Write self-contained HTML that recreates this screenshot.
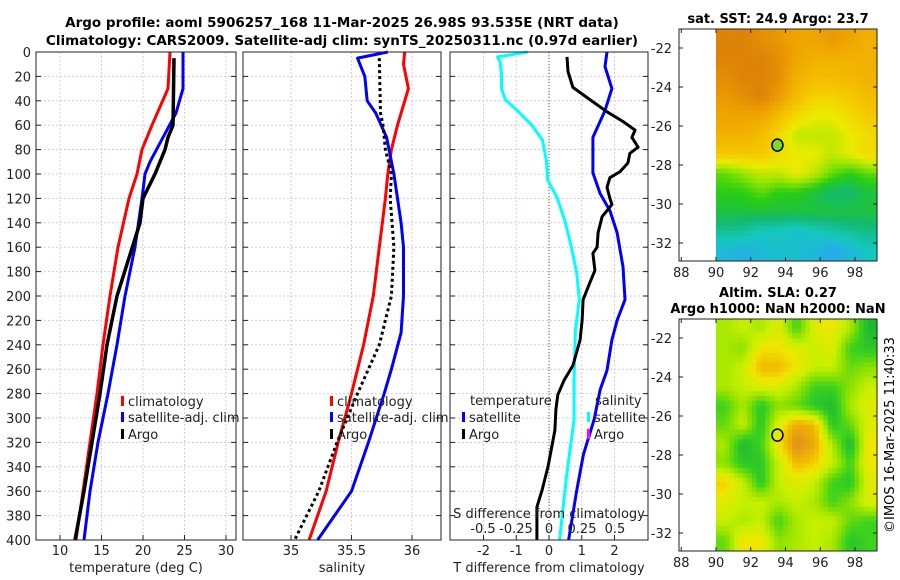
<!DOCTYPE html>
<html><head><meta charset="utf-8"><style>
body{margin:0;background:#fff;}
svg{display:block;font-family:"DejaVu Sans","Liberation Sans",sans-serif;}
</style></head><body>
<svg id="c" width="900" height="580" viewBox="0 0 900 580">
<g id="g"></g>
<text x="342" y="27" font-size="13.5" font-weight="bold" text-anchor="middle">Argo profile: aoml 5906257_168 11-Mar-2025 26.98S 93.535E (NRT data)</text>
<text x="342" y="45" font-size="13.5" font-weight="bold" text-anchor="middle">Climatology: CARS2009. Satellite-adj clim: synTS_20250311.nc (0.97d earlier)</text>
<text x="778" y="23" font-size="13" font-weight="bold" text-anchor="middle">sat. SST: 24.9 Argo: 23.7</text>
<text x="778" y="297" font-size="13" font-weight="bold" text-anchor="middle">Altim. SLA: 0.27</text>
<text x="778" y="313" font-size="13" font-weight="bold" text-anchor="middle">Argo h1000: NaN h2000: NaN</text>
<text transform="translate(894,435) rotate(-90)" font-size="13" text-anchor="middle">©IMOS 16-Mar-2025 11:40:33</text>
</svg>
<script>
// ---- data ----
const depthTicks=[0,20,40,60,80,100,120,140,160,180,200,220,240,260,280,300,320,340,360,380,400];
const tTicks=[10,15,20,25,30];
const sTicks=[35,35.5,36];
const dTTicks=[-2,-1,0,1,2];
const dSTicks=[-0.5,-0.25,0,0.25,0.5];
const dSTickLabels=["-0.5","-0.25","0","0.25","0.5"];
const tempClimDepth=[0,30,60,80,100,120,160,200,240,280,320,360,400];
const tempClim=[23.25,23.01,21.08,19.88,19.28,18.31,16.99,16.02,15.18,14.46,13.61,12.77,11.93];
const tempSatDepth=[0,30,50,70,90,100,120,160,200,240,280,320,360,400];
const tempSat=[24.82,24.82,23.98,22.41,20.84,20.24,19.88,19.04,17.83,16.87,15.78,14.58,13.61,12.89];
const tempArgoDepth=[5,60,70,80,100,120,140,200,240,280,320,360,400];
const tempArgo=[23.73,23.61,23.01,22.65,21.45,20.0,19.64,16.87,15.66,14.82,13.86,12.89,11.81];
const salClimDepth=[0,10,30,60,80,100,120,160,200,240,280,320,360,400];
const salClim=[35.94,35.93,35.97,35.88,35.83,35.80,35.78,35.73,35.68,35.60,35.50,35.39,35.29,35.15];
const salSatDepth=[0,5,20,40,50,70,100,120,140,160,200,230,260,280,320,360,400];
const salSat=[35.80,35.55,35.61,35.63,35.70,35.79,35.85,35.88,35.91,35.93,35.93,35.91,35.83,35.77,35.64,35.50,35.22];
const salArgoDepth=[5,50,60,80,100,120,160,200,240,280,320,360,400];
const salArgo=[35.73,35.74,35.76,35.78,35.83,35.82,35.85,35.83,35.73,35.55,35.38,35.23,35.03];
const dSsatDepth=[0,4,8,19,30,39,48,60,72,89,105,119,138,160,181,203,228,269,301,350,400];
const dSsat=[-0.16,-0.39,-0.37,-0.36,-0.36,-0.33,-0.24,-0.13,-0.05,-0.02,-0.01,0.06,0.12,0.17,0.21,0.23,0.20,0.19,0.19,0.13,0.08];
const dTsatDepth=[0,12,30,48,70,99,116,130,148,176,203,220,236,261,277,301,330,359,400];
const dTsat=[1.77,1.71,1.92,1.71,1.34,1.34,1.56,1.86,2.08,2.26,2.32,2.08,1.92,1.77,1.56,1.38,1.05,0.85,0.6];
const dTargoDepth=[4,16,29,39,49,57,64,70,78,83,91,98,103,111,120,125,135,148,160,165,179,189,203,220,236,257,269,281,293,310,340,359,373,400];
const dTargo=[0.55,0.58,0.73,1.25,1.77,2.26,2.63,2.53,2.72,2.47,2.41,2.17,1.86,1.77,1.86,1.92,1.62,1.50,1.47,1.34,1.40,1.25,1.04,1.01,0.95,0.73,0.46,0.27,0.21,0.18,-0.03,-0.21,-0.37,-0.37];
const mapLonTicks=[88,90,92,94,96,98];
const mapLatTicks=[-22,-24,-26,-28,-30,-32];
const sstGrid=[
[0.95,0.95,0.9,0.85,0.8,0.8,0.85,0.8,0.75],
[0.95,0.95,0.95,0.9,0.8,0.75,0.75,0.75,0.75],
[0.9,0.95,0.95,0.9,0.75,0.7,0.7,0.72,0.75],
[0.85,0.9,0.95,0.85,0.7,0.62,0.62,0.65,0.7],
[0.8,0.8,0.8,0.7,0.6,0.55,0.55,0.6,0.65],
[0.75,0.75,0.7,0.6,0.5,0.5,0.5,0.55,0.6],
[0.65,0.65,0.65,0.6,0.55,0.55,0.5,0.55,0.6],
[0.4,0.45,0.5,0.5,0.55,0.5,0.4,0.35,0.4],
[0.35,0.35,0.4,0.35,0.35,0.3,0.25,0.25,0.3],
[0.3,0.3,0.3,0.3,0.3,0.3,0.3,0.3,0.3],
[0.2,0.2,0.15,0.15,0.12,0.15,0.18,0.2,0.22],
[0.1,0.08,0.1,0.12,0.12,0.1,0.05,0.1,0.15]];
const slaGrid=[
[0.45,0.5,0.45,0.55,0.3,0.55,0.6,0.45,0.2],
[0.45,0.4,0.6,0.6,0.55,0.5,0.55,0.3,0.25],
[0.45,0.5,0.7,0.7,0.6,0.5,0.5,0.35,0.4],
[0.45,0.5,0.55,0.55,0.45,0.3,0.3,0.4,0.5],
[0.3,0.45,0.25,0.4,0.35,0.25,0.2,0.45,0.55],
[0.35,0.5,0.25,0.55,0.75,0.7,0.25,0.35,0.55],
[0.45,0.2,0.3,0.6,0.85,0.75,0.45,0.2,0.6],
[0.4,0.25,0.25,0.5,0.7,0.65,0.5,0.3,0.6],
[0.65,0.5,0.25,0.5,0.55,0.5,0.3,0.25,0.55],
[0.55,0.5,0.5,0.45,0.5,0.45,0.3,0.4,0.55],
[0.5,0.45,0.5,0.3,0.45,0.5,0.5,0.35,0.3],
[0.35,0.6,0.6,0.4,0.45,0.5,0.45,0.25,0.3]];
const argoLon=[93.535];
const argoLat=[-26.98];

// ---- helpers ----
const NS='http://www.w3.org/2000/svg';
const G=document.getElementById('g');
function mk(tag,attrs,parent){const e=document.createElementNS(NS,tag);for(const k in attrs)e.setAttribute(k,attrs[k]);(parent||G).appendChild(e);return e;}
const Y0=52,Y1=540;
const yD=d=>Y0+(d/400)*(Y1-Y0);
function lin(d0,d1,r0,r1){return v=>r0+(v-d0)/(d1-d0)*(r1-r0);}
const xT=lin(10,30,60,226);
const xS=lin(35,36,291,412);
const xDT=lin(0,1,549,581.75);
const xDS=lin(0,0.5,549,615);
const panels=[{x0:36,x1:236,name:'temperature-panel'},{x0:243,x1:441,name:'salinity-panel'},{x0:450,x1:648,name:'difference-panel'}];

function grid(p,xs){
  for(const d of depthTicks){const l=mk('line',{x1:p.x0,x2:p.x1,y1:yD(d),y2:yD(d),stroke:'#c8cdf0','stroke-width':1,'stroke-dasharray':'2,2'});
    }
  for(const x of xs){const l=mk('line',{x1:x,x2:x,y1:Y0,y2:Y1,stroke:'#e8c8c0','stroke-width':1,'stroke-dasharray':'2,2'});
    }
}
function frame(p){
  const r=mk('rect',{x:p.x0,y:Y0,width:p.x1-p.x0,height:Y1-Y0,fill:'none',stroke:'#222','stroke-width':1});
  
  for(const d of depthTicks){mk('line',{x1:p.x0,x2:p.x0+5,y1:yD(d),y2:yD(d),stroke:'#222'});mk('line',{x1:p.x1,x2:p.x1-5,y1:yD(d),y2:yD(d),stroke:'#222'});}
}
function line(depths,vals,xf,color,w,dash,name){
  const pts=depths.map((d,i)=>xf(vals[i]).toFixed(1)+','+yD(d).toFixed(1)).join(' ');
  const a={points:pts,fill:'none',stroke:color,'stroke-width':w,'stroke-linejoin':'round'};
  if(dash)a['stroke-dasharray']=dash;
  const e=mk('polyline',a);
  
  
}
function txt(x,y,s,opts,name){const e=mk('text',Object.assign({x:x,y:y,'font-size':13,fill:'#222'},opts||{}));e.textContent=s;
  return e;}

// panel 1
grid(panels[0],tTicks.map(xT));
line(tempClimDepth,tempClim,xT,'#ff0000',3,null,'temperature-climatology-line');
line(tempSatDepth,tempSat,xT,'#0000ff',3,null,'temperature-satellite-line');
line(tempArgoDepth,tempArgo,xT,'#000',3.5,null,'temperature-argo-line');
frame(panels[0]);
for(const d of depthTicks)txt(31,yD(d)+5,String(d),{'text-anchor':'end'},'depth-tick-label');
for(const t of tTicks){mk('line',{x1:xT(t),x2:xT(t),y1:Y1,y2:Y1-5,stroke:'#222'});txt(xT(t),555,String(t),{'text-anchor':'middle'},'temperature-tick-label');}
txt(136,572,'temperature (deg C)',{'text-anchor':'middle'},'temperature-axis-title');
// panel 2
grid(panels[1],sTicks.map(xS));
line(salClimDepth,salClim,xS,'#ff0000',3,null,'salinity-climatology-line');
line(salSatDepth,salSat,xS,'#0000ff',3,null,'salinity-satellite-line');
line(salArgoDepth,salArgo,xS,'#000',3,'3,3','salinity-argo-line');
frame(panels[1]);
for(const s of sTicks){mk('line',{x1:xS(s),x2:xS(s),y1:Y1,y2:Y1-5,stroke:'#222'});txt(xS(s),555,String(s),{'text-anchor':'middle'},'salinity-tick-label');}
txt(342,572,'salinity',{'text-anchor':'middle'},'salinity-axis-title');
// legends
function leg(x,y,color,label,name){const m=mk('rect',{x:x,y:y-10,width:3,height:10,fill:color});txt(x+7,y,label,{},name);}
leg(121,406,'#ff0000','climatology','legend-climatology');
leg(121,422,'#0000ff','satellite-adj. clim','legend-satellite');
leg(121,439,'#000','Argo','legend-argo');
leg(330,406,'#ff0000','climatology','legend-sal-climatology');
leg(330,422,'#0000ff','satellite-adj. clim','legend-sal-satellite');
leg(330,439,'#000','Argo','legend-sal-argo');
// panel 3
grid(panels[2],dTTicks.map(xDT));
mk('line',{x1:549,x2:549,y1:Y0,y2:Y1,stroke:'#4a6a30','stroke-width':1,'stroke-dasharray':'1,2'});
line(dSsatDepth,dSsat,xDS,'#00ffff',3,null,'salinity-difference-satellite-line');
line(dTsatDepth,dTsat,xDT,'#0000ff',3,null,'temperature-difference-satellite-line');
line(dTargoDepth,dTargo,xDT,'#000',3,null,'temperature-difference-argo-line');
frame(panels[2]);
for(const t of dTTicks){mk('line',{x1:xDT(t),x2:xDT(t),y1:Y1,y2:Y1-5,stroke:'#222'});txt(xDT(t),555,String(t),{'text-anchor':'middle'},'t-difference-tick-label');}
dSTicks.forEach((s,i)=>txt(xDS(s),533,dSTickLabels[i],{'text-anchor':'middle'},'s-difference-tick-label'));
txt(549,518,'S difference from climatology',{'text-anchor':'middle'},'s-difference-axis-title');
txt(549,572,'T difference from climatology',{'text-anchor':'middle'},'t-difference-axis-title');
txt(470,405,'temperature',{},'legend-temperature-heading');
txt(595,405,'salinity',{},'legend-salinity-heading');
leg(462,422,'#0000ff','satellite','legend-diff-t-satellite');
leg(462,439,'#000','Argo','legend-diff-t-argo');
leg(587,422,'#00ffff','satellite','legend-diff-s-satellite');
leg(587,439,'#ff00ff','Argo','legend-diff-s-argo');

// maps
function interp(stops,v){v=Math.max(stops[0][0],Math.min(stops[stops.length-1][0],v));
  for(let i=1;i<stops.length;i++){if(v<=stops[i][0]){const a=stops[i-1],b=stops[i],t=(v-a[0])/(b[0]-a[0]);
    return 'rgb('+[0,1,2].map(k=>Math.round(a[1][k]+(b[1][k]-a[1][k])*t)).join(',')+')';}}}
const sstStops=[[0.05,[40,170,240]],[0.15,[20,200,190]],[0.25,[20,185,110]],[0.35,[40,205,20]],[0.45,[150,230,0]],[0.55,[235,235,0]],[0.65,[245,200,0]],[0.8,[240,165,0]],[1,[215,120,10]]];
const slaStops=[[0.2,[30,185,50]],[0.3,[60,210,30]],[0.4,[140,225,0]],[0.5,[200,240,0]],[0.6,[240,230,0]],[0.7,[240,185,0]],[0.85,[225,140,30]]];
function sample(gridv,fr,fc){
  const rows=gridv.length, cols=gridv[0].length;
  const r=Math.max(0,Math.min(rows-1,fr)), c=Math.max(0,Math.min(cols-1,fc));
  const r0=Math.floor(r), c0=Math.floor(c), r1=Math.min(rows-1,r0+1), c1=Math.min(cols-1,c0+1);
  const tr=r-r0, tc=c-c0;
  const a=gridv[r0][c0]*(1-tc)+gridv[r0][c1]*tc, b=gridv[r1][c0]*(1-tc)+gridv[r1][c1]*tc;
  return a*(1-tr)+b*tr;
}
function map(top,gridv,stops,name,argoFill){
  const L=679,R=877,B=top+232;
  const xLon=lin(90,98,716,855), yLat=lin(-22,-32,top+19,top+214);
  const rows=gridv.length, cols=gridv[0].length, sub=4;
  const cw=(R-716)/(cols*sub), rh=(B-1-top)/(rows*sub);
  for(let r=0;r<rows*sub;r++)for(let c=0;c<cols*sub;c++){
    const v=sample(gridv,(r+0.5)/sub-0.5,(c+0.5)/sub-0.5);
    const e=mk('rect',{x:(716+c*cw).toFixed(1),y:(top+r*rh).toFixed(1),width:(cw+0.6).toFixed(1),height:(rh+0.6).toFixed(1),fill:interp(stops,v)});
    
    
  }
  const f=mk('rect',{x:L,y:top,width:R-L,height:B-top,fill:'none',stroke:'#222'});
  
  for(const lon of mapLonTicks){mk('line',{x1:xLon(lon),x2:xLon(lon),y1:B,y2:B-4,stroke:'#222'});mk('line',{x1:xLon(lon),x2:xLon(lon),y1:top,y2:top+4,stroke:'#222'});
    txt(xLon(lon),B+16,String(lon),{'text-anchor':'middle'},name+'-lon-label');}
  for(const lat of mapLatTicks){mk('line',{x1:L,x2:L+4,y1:yLat(lat),y2:yLat(lat),stroke:'#222'});mk('line',{x1:R,x2:R-4,y1:yLat(lat),y2:yLat(lat),stroke:'#222'});
    txt(672,yLat(lat)+5,String(lat),{'text-anchor':'end'},name+'-lat-label');}
  const c=mk('ellipse',{cx:xLon(argoLon[0]),cy:yLat(argoLat[0]),rx:5.5,ry:6,fill:argoFill,stroke:'#000','stroke-width':1.5});
  
}
map(29,sstGrid,sstStops,'sst-map','#7ddc20');
map(319,slaGrid,slaStops,'sla-map','none');
</script>
</body></html>
